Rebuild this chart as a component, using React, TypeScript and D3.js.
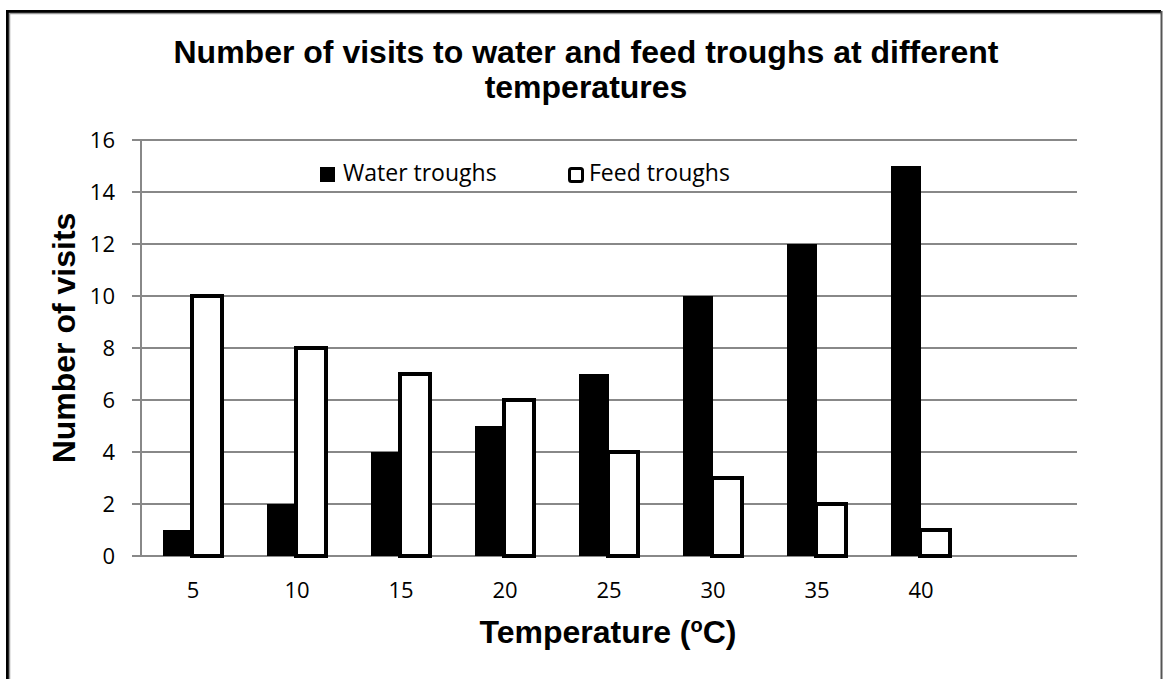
import React from "react";
import * as d3 from "d3";

const categories = ["5", "10", "15", "20", "25", "30", "35", "40", ""];
const seriesNames = ["Water troughs", "Feed troughs"];
const waterValues = [1, 2, 4, 5, 7, 10, 12, 15, null];
const feedValues = [10, 8, 7, 6, 4, 3, 2, 1, null];
const yTicks = [0, 2, 4, 6, 8, 10, 12, 14, 16];

const W = 1163;
const H = 679;
const plot = { left: 141, right: 1077, top: 140, bottom: 556 };
const calibri = "'Open Sans', 'Noto Sans', sans-serif";
const arial = "'Liberation Sans', Arial, sans-serif";

export default function App() {
  const x = d3.scaleBand<string>().domain(categories).range([plot.left, plot.right]).padding(0);
  const y = d3.scaleLinear().domain([0, 16]).range([plot.bottom, plot.top]);
  const inner = d3
    .scaleBand<string>()
    .domain(seriesNames)
    .range([0, 60]);
  const groupOffset = (x.bandwidth() - 60) / 2;

  return (
    <svg width={W} height={H} style={{ position: "absolute", left: 0, top: 0, background: "#fff" }}>
      {/* frame */}
      <rect x={0} y={0} width={W} height={H} fill="#fff" />
      <path d={`M7.5,${H + 5} V11.5 H1161`} fill="none" stroke="#000" strokeWidth={3} />
      <path d={`M9.5,${H + 5} V13.5 H1161`} fill="none" stroke="#999" strokeWidth={1.5} />
      <line x1={1161.5} y1={11} x2={1161.5} y2={H + 5} stroke="#555" strokeWidth={2} />

      {/* title */}
      <text x={586} y={63} textAnchor="middle" fontFamily={arial} fontWeight="bold" fontSize={32} fill="#000">
        Number of visits to water and feed troughs at different
      </text>
      <text x={586} y={98} textAnchor="middle" fontFamily={arial} fontWeight="bold" fontSize={32} fill="#000">
        temperatures
      </text>

      {/* gridlines + y ticks */}
      {yTicks.map((t) => (
        <g key={t}>
          <line x1={plot.left - 9} x2={plot.right} y1={y(t)} y2={y(t)} stroke="#888" strokeWidth={2} />
          <text
            x={115}
            y={y(t)}
            dy="0.36em"
            textAnchor="end"
            fontFamily={calibri}
            fontSize={22}
            fill="#000"
          >
            {t}
          </text>
        </g>
      ))}
      <line x1={plot.left} x2={plot.left} y1={plot.top} y2={plot.bottom} stroke="#888" strokeWidth={2} />

      {/* bars */}
      {categories.map((c, i) => {
        const x0 = (x(c) as number) + groupOffset;
        const wv = waterValues[i];
        const fv = feedValues[i];
        return (
          <g key={c + i}>
            {wv != null && (
              <rect
                x={x0 + (inner("Water troughs") as number)}
                y={y(wv)}
                width={inner.bandwidth()}
                height={y(0) - y(wv)}
                fill="#000"
              />
            )}
            {fv != null && (
              <rect
                x={x0 + (inner("Feed troughs") as number) - 1}
                y={y(fv)}
                width={inner.bandwidth()}
                height={y(0) - y(fv)}
                fill="#fff"
                stroke="#000"
                strokeWidth={4}
              />
            )}
          </g>
        );
      })}

      {/* x tick labels */}
      {categories.map((c) => (
        <text
          key={"xl" + c}
          x={(x(c) as number) + x.bandwidth() / 2}
          y={598}
          textAnchor="middle"
          fontFamily={calibri}
          fontSize={22}
          fill="#000"
        >
          {c}
        </text>
      ))}

      {/* legend */}
      <rect x={320} y={167} width={15} height={15} fill="#000" />
      <text x={343} y={181} fontFamily={calibri} fontSize={23} fill="#000">
        {seriesNames[0]}
      </text>
      <rect x={569.5} y={168.5} width={13} height={13} rx={2} fill="#fff" stroke="#000" strokeWidth={3} />
      <text x={589} y={181} fontFamily={calibri} fontSize={23} fill="#000">
        {seriesNames[1]}
      </text>

      {/* axis titles */}
      <text x={608} y={643} textAnchor="middle" fontFamily={arial} fontWeight="bold" fontSize={32} fill="#000">
        Temperature (<tspan fontSize={20} dy={-11}>o</tspan>
        <tspan dy={11}>C)</tspan>
      </text>
      <text
        transform={`translate(75,338) rotate(-90)`}
        textAnchor="middle"
        fontFamily={arial}
        fontWeight="bold"
        fontSize={32}
        fill="#000"
      >
        Number of visits
      </text>
    </svg>
  );
}
